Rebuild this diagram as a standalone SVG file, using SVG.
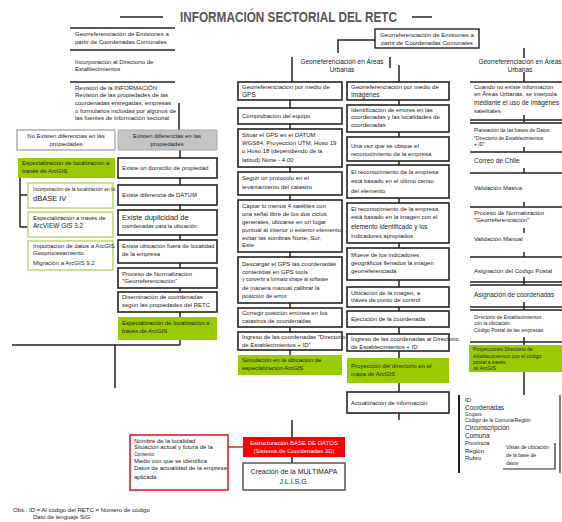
<svg xmlns="http://www.w3.org/2000/svg" width="562" height="522" viewBox="0 0 562 522">
<style>
text{font-family:"Liberation Sans",Arial,sans-serif;font-size:6px;fill:#222}
.t{font-size:14px;font-weight:bold;fill:#555}
.c{text-anchor:middle}
.b{font-size:7.5px}
.h{font-size:6.5px}
.s{font-size:5px}
.w{fill:#fff}
.box{fill:#fff;stroke:#222;stroke-width:1.6}
.gbox{fill:#fff;stroke:#222;stroke-width:1.4}
.grey{fill:#c4c4c4;stroke:#aaa;stroke-width:1}
.lite{fill:#fff;stroke:#999;stroke-width:1.2}
.grn{fill:#99cc00;stroke:none}
.lg{fill:#fff;stroke:#c3d77a;stroke-width:1.6}
.red{fill:#ff0000}
.rb{fill:#fff;stroke:#e0202c;stroke-width:1.6}
.ln{stroke:#222;stroke-width:1.5;fill:none}
</style>
<rect width="562" height="522" fill="#fff"/>
<g id="title">
<line x1="120" y1="17" x2="163" y2="17" class="ln"/>
<text class="t" x="180" y="22" textLength="217" lengthAdjust="spacingAndGlyphs">INFORMACIÓN SECTORIAL DEL RETC</text>
<line x1="412" y1="17" x2="432" y2="17" class="ln"/>
</g>
<g id="connectors" class="ln">
<path d="M179 103V130"/>
<path d="M180 150V158M180 178V185M180 205V210M180 235V240M180 263V268M180 288V292M180 312V317M180 340V345"/>
<path d="M12 345H180M115 345V388"/>
<path d="M20 178V227M20 195H28M20 227H28"/>
<path d="M375 40H338V53"/>
<path d="M292 57V82M390 57V68M399 65V82M524 48V58M524 72V82"/>
<path d="M290 100V108M290 124V129M290 167V172M290 195V200M290 252V257M290 303V308M290 327V332M290 350V355"/>
<path d="M399 100V105M399 132V137M399 161V165M399 198V203M399 243V248M399 280V287M399 307V311M399 327V334M399 351V358M399 383V392M399 413V420"/>
<path d="M524 115V122M524 147V152M524 168V173M524 202V207M524 228V233M524 252V257M524 277V285M524 302V310M524 337V345M524 372V395"/>
<path d="M292 420V437M292 457V463"/>
<path d="M228 447H243" stroke="#e0202c"/>
</g>
<g id="left-top">
<path d="M70 28H175M70 50H175M70 82H175" class="ln"/>
<text x="75" y="36">Georreferenciación de Emisiones a</text>
<text x="75" y="44">partir de Coordenadas Comunales</text>
<text x="75" y="64">Incorporación al Directorio de</text>
<text x="75" y="71">Establecimientos</text>
<text x="75" y="90">Revisión de la INFORMACIÓN</text>
<text x="75" y="97">Revisión de las propiedades de las</text>
<text x="75" y="105">coordenadas entregadas, empresas</text>
<text x="75" y="113">o formularios incluidas por algunos de</text>
<text x="75" y="120">las fuentes de información sectorial</text>
</g>
<g id="no-existen">
<rect x="17" y="130" width="98" height="20" class="lite"/>
<text class="c" x="66" y="138">No Existen diferencias en las</text>
<text class="c" x="66" y="146">propiedades</text>
</g>
<g id="esp-left">
<rect x="18" y="158" width="97" height="20" class="grn"/>
<text x="22" y="165">Especialización de localización a</text>
<text x="22" y="173">través de ArcGIS</text>
</g>
<g id="dbase">
<rect x="28" y="183" width="85" height="25" class="lg"/>
<text x="33" y="191" class="s">Incorporación de la localización en la</text>
<text x="33" y="201" class="b">dBASE IV</text>
</g>
<g id="arcview">
<rect x="28" y="212" width="85" height="25" class="lg"/>
<text x="33" y="220">Especialización a través de</text>
<text x="33" y="228" class="h">ArcVIEW GIS 3.2</text>
</g>
<g id="migracion">
<rect x="28" y="241" width="85" height="29" class="lg"/>
<text x="33" y="248">Importación de datos a ArcGIS</text>
<text x="33" y="255">Geoprocesamiento</text>
<text x="33" y="265">Migración a ArcGIS 9.2</text>
</g>
<g id="existen">
<rect x="118" y="130" width="99" height="20" class="grey"/>
<text class="c" x="167" y="138">Existen diferencias en las</text>
<text class="c" x="167" y="146">propiedades</text>
</g>
<g id="m1"><rect x="118" y="158" width="99" height="20" class="box"/><text x="122" y="170">Existe un domicilio de propiedad</text></g>
<g id="m2"><rect x="118" y="185" width="99" height="20" class="box"/><text x="122" y="197">Existe diferencia de DATUM</text></g>
<g id="m3"><rect x="118" y="210" width="99" height="25" class="box"/><text x="122" y="220" class="b">Existe duplicidad de</text><text x="122" y="228" style="font-size:5.5px">coordenadas para la ubicación</text></g>
<g id="m4"><rect x="118" y="240" width="99" height="23" class="box"/><text x="122" y="248">Existe ubicación fuera de localidad</text><text x="122" y="256">de la empresa</text></g>
<g id="m5"><rect x="118" y="268" width="99" height="20" class="box"/><text x="122" y="276">Proceso de Normalización</text><text x="122" y="283">"Georreferenciación"</text></g>
<g id="m6"><rect x="118" y="292" width="99" height="20" class="box"/><text x="122" y="299">Diseminación de coordenadas</text><text x="122" y="307">según las propiedades del RETC</text></g>
<g id="m7"><rect x="118" y="317" width="99" height="23" class="grn"/><text x="122" y="325">Especialización de localización a</text><text x="122" y="333">través de ArcGIS</text></g>
<g id="hdr-right">
<rect x="375" y="29" width="104" height="19" class="gbox"/>
<text class="c" x="427" y="37">Georreferenciación de Emisiones a</text>
<text class="c" x="427" y="45">partir de Coordenadas Comunales</text>
</g>
<g id="hdr-urb1"><text class="c h" x="342" y="64">Georreferenciación en Áreas</text><text class="c h" x="342" y="72">Urbanas</text></g>
<g id="hdr-urb2"><text class="c h" x="520" y="64">Georreferenciación en Áreas</text><text class="c h" x="520" y="72">Urbanas</text></g>
<g id="g1"><rect x="238" y="82" width="104" height="18" class="box"/><text x="242" y="89">Georreferenciación por medio de</text><text x="242" y="97" class="h">GPS</text></g>
<g id="g2"><rect x="238" y="108" width="104" height="16" class="box"/><text x="242" y="118">Comprobación del equipo</text></g>
<g id="g3"><rect x="238" y="129" width="104" height="38" class="box"/><text x="242" y="137">Situar el GPS en el DATUM</text><text x="242" y="145">WGS84, Proyección UTM, Huso 19</text><text x="242" y="153">o Huso 18 (dependiendo de la</text><text x="242" y="162">latitud) Norte - 4.00</text></g>
<g id="g4"><rect x="238" y="172" width="104" height="23" class="box"/><text x="242" y="180">Seguir un protocolo en el</text><text x="242" y="189">levantamiento del catastro</text></g>
<g id="g5"><rect x="238" y="200" width="104" height="52" class="box"/><text x="242" y="208">Captar lo menos 4 satélites con</text><text x="242" y="216">una señal libre de los dos ciclos</text><text x="242" y="224">generales, ubicarse en un lugar</text><text x="242" y="232">puntual al interior o exterior elemento,</text><text x="242" y="240">evitar las sombras Norte, Sur,</text><text x="242" y="247">Este</text></g>
<g id="g6"><rect x="238" y="257" width="104" height="46" class="box"/><text x="242" y="266">Descargar el GPS las coordenadas</text><text x="242" y="274">contenidas en GPS tools</text><text x="242" y="281" class="s">y convertir a formato shape al software</text><text x="242" y="290">de manera manual calibrar la</text><text x="242" y="298">posición de error</text></g>
<g id="g7"><rect x="238" y="308" width="104" height="19" class="box"/><text x="242" y="315">Corregir posición errónea en los</text><text x="242" y="323">catastros de coordenadas</text></g>
<g id="g8"><rect x="238" y="332" width="104" height="18" class="box"/><text x="242" y="339">Ingreso de las coordenadas "Directorio</text><text x="242" y="347">de Establecimientos + ID"</text></g>
<g id="g9"><rect x="238" y="355" width="104" height="20" class="grn"/><text x="242" y="362">Simulación en la ubicación de</text><text x="242" y="370">especialización ArcGIS</text></g>
<g id="i1"><rect x="347" y="82" width="102" height="18" class="box"/><text x="351" y="89">Georreferenciación por medio de</text><text x="351" y="97" class="h">Imágenes</text></g>
<g id="i2"><rect x="347" y="105" width="102" height="27" class="box"/><text x="351" y="112">Identificación de errores en las</text><text x="351" y="119">coordenadas y las localidades de</text><text x="351" y="127">coordenadas</text></g>
<g id="i3"><rect x="347" y="137" width="102" height="24" class="box"/><text x="351" y="148">Una vez que se ubique el</text><text x="351" y="156">reconocimiento de la empresa</text></g>
<g id="i4"><rect x="347" y="165" width="102" height="33" class="box"/><text x="351" y="174">El reconocimiento de la empresa</text><text x="351" y="183">está basado en el último censo</text><text x="351" y="193">del elemento</text></g>
<g id="i5"><rect x="347" y="203" width="102" height="40" class="box"/><text x="351" y="211">El reconocimiento de la empresa</text><text x="351" y="219">está basado en la imagen con el</text><text x="351" y="229" class="h">elemento identificado y los</text><text x="351" y="238">indicadores apropiados</text></g>
<g id="i6"><rect x="347" y="248" width="102" height="32" class="box"/><text x="351" y="257">Mueve de los indicadores</text><text x="351" y="265">geográficos llenados la imagen</text><text x="351" y="273">georreferenciada</text></g>
<g id="i7"><rect x="347" y="287" width="102" height="20" class="box"/><text x="351" y="295">Ubicación de la imagen, a</text><text x="351" y="302">través de punto de control</text></g>
<g id="i8"><rect x="347" y="311" width="102" height="16" class="box"/><text x="351" y="321">Ejecución de la coordenada</text></g>
<g id="i9"><rect x="347" y="334" width="102" height="17" class="box"/><text x="351" y="341">Ingreso de las coordenadas al Directorio</text><text x="351" y="349">de Establecimientos + ID</text></g>
<g id="i10"><rect x="347" y="358" width="102" height="25" class="grn"/><text x="351" y="368">Proyección del directorio en el</text><text x="351" y="376">mapa de ArcGIS</text></g>
<g id="i11"><rect x="347" y="392" width="102" height="21" class="box"/><text x="351" y="405">Actualización de información</text></g>
<g id="right-col">
<path d="M470 82H562M470 120H562M470 123H562M470 152H562M470 173H562M470 207H562M470 257H562M470 282H562M470 285H562M470 307H562M470 310H562M470 342H562" class="ln"/>
<text x="474" y="89">Cuando no existe información</text>
<text x="474" y="96">en Áreas Urbanas, se interpola</text>
<text x="474" y="105" class="h">mediante el uso de imágenes</text>
<text x="474" y="113">satelitales</text>
<text x="474" y="132" class="s">Planeación de las bases de Datos</text>
<text x="474" y="140" class="s">"Directorio de Establecimientos</text>
<text x="474" y="146" class="s">+ ID"</text>
<text x="474" y="163" class="h">Correo de Chile</text>
<text x="474" y="190">Validación Masiva</text>
<text x="474" y="215">Proceso de Normalización</text>
<text x="474" y="222">"Georreferenciación"</text>
<text x="474" y="241">Validación Manual</text>
<text x="474" y="273">Asignación del Código Postal</text>
<text x="474" y="297" class="h">Asignación de coordenadas</text>
<text x="474" y="319" class="s">Directorio de Establecimientos</text>
<text x="474" y="325" class="s">con la ubicación</text>
<text x="474" y="332" class="s">Código Postal de las empresas</text>
</g>
<g id="r-green">
<rect x="469" y="345" width="93" height="27" class="grn"/>
<text x="473" y="351" class="s">Proyecciones Directorio de</text>
<text x="473" y="357.5" class="s">establecimientos con el código</text>
<text x="473" y="364" class="s">postal a través</text>
<text x="473" y="370" class="s">de ArcGIS</text>
</g>
<g id="id-box">
<path d="M459 395V473" stroke="#222" stroke-width="2"/>
<path d="M560 395V473" stroke="#222" stroke-width="1.2"/>
<text x="465" y="402">ID</text>
<text x="465" y="410" class="h">Coordenadas</text>
<text x="465" y="416" class="s">Grupos</text>
<text x="465" y="422" class="s">Código de la Comuna/Región</text>
<text x="465" y="430" class="h">Circunscripción</text>
<text x="465" y="438" class="h">Comuna</text>
<text x="465" y="445">Provincia</text>
<text x="465" y="453">Región</text>
<text x="465" y="460">Rubro</text>
</g>
<g id="vista">
<path d="M503 469H555V443" stroke="#222" stroke-width="1.2" fill="none"/>
<text x="506" y="449" class="s">Vistas de ubicación</text>
<text x="506" y="457" class="s">de la base de</text>
<text x="506" y="465" class="s">datos</text>
</g>
<g id="bd">
<rect x="243" y="437" width="102" height="20" class="red"/>
<text class="c w" x="294" y="445">Estructuración BASE DE DATOS</text>
<text class="c w" x="294" y="453">(Sistema de Coordenadas 3D)</text>
</g>
<g id="multimapa">
<rect x="243" y="463" width="102" height="27" fill="#fff" stroke="#555" stroke-width="1.5"/>
<text class="c" x="294" y="474" style="font-size:7px">Creación de la MULTIMAPA</text>
<text class="c" x="294" y="484" style="font-size:7px">J.L.I.S.G.</text>
</g>
<g id="localidad">
<rect x="130" y="435" width="98" height="55" class="rb"/>
<text x="134" y="443">Nombre de la localidad</text>
<text x="134" y="449">Situación actual y futura de la</text>
<text x="134" y="456" class="s">Contexto</text>
<text x="134" y="463">Medio con que se identifica</text>
<text x="134" y="470">Datos de actualidad de la empresa</text>
<text x="134" y="479">aplicada</text>
</g>
<g id="nota">
<text x="13" y="512">Obs.:  ID = Al código del RETC = Número de código</text>
<text x="33" y="519">Dato de lenguaje SIG</text>
</g>
</svg>
